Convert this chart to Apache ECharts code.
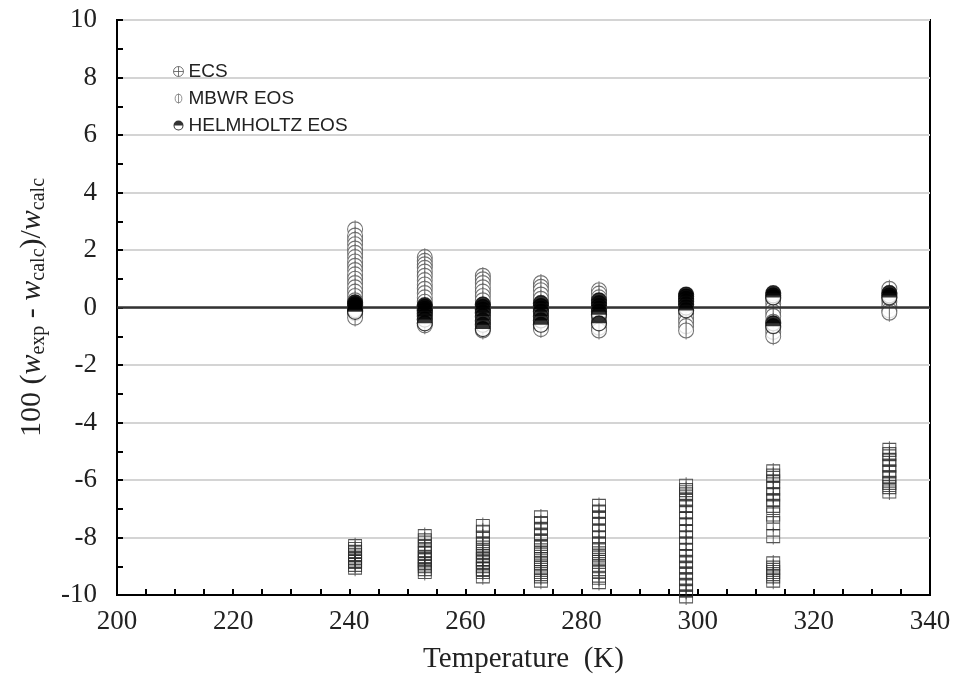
<!DOCTYPE html>
<html>
<head>
<meta charset="utf-8">
<script src="https://cdn.jsdelivr.net/npm/echarts@6/dist/echarts.min.js"></script>
<style>
  html, body { margin: 0; padding: 0; background: #ffffff; }
  #chart { width: 957px; height: 679px; }
</style>
</head>
<body>
<div id="chart"></div>
<script>
// Measurement temperatures (K)
const tempK = [241, 253, 263, 273, 283, 298, 313, 333];

// Deviations 100 (w_exp - w_calc)/w_calc, one list per temperature
const ecsDev = [
  [-8.3, -8.4, -8.5, -8.6, -8.7, -8.8, -8.85, -8.95, -9.05],
  [-7.95, -8.1, -8.3, -8.45, -8.55, -8.7, -8.8, -8.9, -9.0, -9.1, -9.2],
  [-7.6, -7.8, -8.0, -8.2, -8.35, -8.5, -8.65, -8.75, -8.85, -9.0, -9.1, -9.2, -9.35],
  [-7.3, -7.5, -7.7, -7.9, -8.1, -8.3, -8.45, -8.6, -8.75, -8.9, -9.05, -9.2, -9.35, -9.5],
  [-6.9, -7.1, -7.3, -7.55, -7.8, -8.0, -8.2, -8.4, -8.55, -8.7, -8.85, -9.0, -9.2, -9.4, -9.55],
  [-6.2, -6.35, -6.5, -6.7, -6.9, -7.1, -7.35, -7.55, -7.8, -8.0, -8.2, -8.45, -8.65, -8.85, -9.05, -9.25, -9.45, -9.65, -9.85, -10.05],
  [-5.7, -5.85, -6.05, -6.3, -6.5, -6.7, -6.9, -7.2, -7.5, -7.95, -8.9, -9.05, -9.2, -9.35, -9.5],
  [-4.95, -5.1, -5.3, -5.5, -5.7, -5.9, -6.1, -6.25, -6.4]
];

const mbwrDev = [
  [2.72, 2.5, 2.35, 2.2, 2.05, 1.9, 1.75, 1.6, 1.45, 1.3, 1.15, 1.0, 0.85, 0.7, 0.55, 0.4, 0.25, 0.1, -0.05, -0.2, -0.35],
  [1.75, 1.62, 1.5, 1.38, 1.25, 1.1, 0.95, 0.8, 0.65, 0.5, 0.35, 0.2, 0.05, -0.1, -0.25, -0.4, -0.55, -0.62],
  [1.1, 0.98, 0.85, 0.7, 0.55, 0.4, 0.25, 0.1, -0.05, -0.2, -0.35, -0.5, -0.65, -0.8],
  [0.85, 0.72, 0.6, 0.45, 0.3, 0.15, 0.0, -0.15, -0.3, -0.45, -0.6, -0.75],
  [0.6, 0.48, 0.35, 0.2, 0.05, -0.1, -0.25, -0.4, -0.55, -0.7, -0.8],
  [0.4, 0.25, 0.1, -0.05, -0.2, -0.35, -0.5, -0.65, -0.8],
  [0.3, 0.15, 0.0, -0.15, -0.3, -0.5, -0.7, -0.85, -1.0],
  [0.65, 0.5, 0.35, 0.2, 0.05, -0.1, -0.18]
];

const helmDev = [
  [0.18, 0.12, 0.06, 0.0, -0.05, -0.1, -0.15],
  [0.08, 0.02, -0.05, -0.12, -0.2, -0.3, -0.42, -0.55],
  [0.1, 0.02, -0.08, -0.18, -0.3, -0.45, -0.6, -0.75],
  [0.15, 0.05, -0.05, -0.15, -0.3, -0.45, -0.6],
  [0.25, 0.15, 0.05, -0.05, -0.15, -0.25, -0.55],
  [0.45, 0.38, 0.3, 0.2, 0.1, 0.0, -0.1],
  [0.5, 0.42, 0.35, -0.55, -0.65],
  [0.5, 0.42, 0.35]
];

const seriesNames = ['ECS', 'MBWR EOS', 'HELMHOLTZ EOS'];

// flatten a per-temperature list into [T, value] pairs
function toPoints(groups) {
  const pts = [];
  groups.forEach((vals, i) => vals.forEach(v => pts.push([tempK[i], v])));
  return pts;
}

// marker shapes
const squareCross = 'path://M0,2 L13,2 L13,15 L0,15 Z M6.5,0 L6.5,17 M0,8.5 L13,8.5';
const circleBar = 'path://M0,9 A7.5,7.5 0 1 1 15,9 A7.5,7.5 0 1 1 0,9 Z M7.5,0 L7.5,18';
const topHalf = 'path://M0,7 A7,7 0 0 1 14,7 Z';
const circleCrossIcon = 'path://M0,5 A5,5 0 1 1 10,5 A5,5 0 1 1 0,5 Z M5,0 L5,10 M0,5 L10,5';
const circleBarIcon = 'path://M0,6 A4,5 0 1 1 8,6 A4,5 0 1 1 0,6 Z M4,0 L4,12';
const halfFilledIcon = 'path://M0,7 A7,7 0 0 1 14,7 Z M0,7 A7,7 0 0 0 14,7 L12.6,7 A5.6,5.6 0 0 1 1.4,7 Z';

const serif = 'Liberation Serif';
const chart = echarts.init(document.getElementById('chart'), null, { renderer: 'canvas' });

chart.setOption({
  animation: false,
  backgroundColor: '#ffffff',
  grid: {
    left: 117, right: 27, top: 20, bottom: 84,
    show: true, borderColor: '#000', borderWidth: 2, backgroundColor: 'transparent'
  },
  legend: {
    orient: 'vertical',
    left: 168, top: 57,
    itemWidth: 10, itemHeight: 10, itemGap: 8,
    textStyle: { fontFamily: 'Liberation Sans', fontSize: 19, color: '#222' },
    data: [
      { name: seriesNames[0], icon: circleCrossIcon,
        itemStyle: { color: 'rgba(0,0,0,0)', borderColor: '#555', borderWidth: 1 } },
      { name: seriesNames[1], icon: circleBarIcon,
        itemStyle: { color: '#fff', borderColor: '#777', borderWidth: 1 } },
      { name: seriesNames[2], icon: halfFilledIcon,
        itemStyle: { color: '#000', borderWidth: 0 } }
    ]
  },
  xAxis: {
    type: 'value', min: 200, max: 340, interval: 20,
    name: 'Temperature  (K)', nameLocation: 'middle', nameGap: 50,
    nameTextStyle: { fontFamily: serif, fontSize: 29, color: '#222' },
    axisLine: { show: true, onZero: false, lineStyle: { color: '#000', width: 2 } },
    axisTick: { show: true, inside: true, length: 6, lineStyle: { color: '#000', width: 2 } },
    minorTick: { show: true, splitNumber: 4, length: 6, lineStyle: { color: '#000', width: 2 } },
    axisLabel: { fontFamily: serif, fontSize: 27, color: '#222', margin: 13 },
    splitLine: { show: false }
  },
  yAxis: {
    type: 'value', min: -10, max: 10, interval: 2,
    name: '100 ({w|w}{s|exp} - {w|w}{s|calc})/{w|w}{s|calc}',
    nameLocation: 'middle', nameRotate: 90, nameGap: 68,
    nameTextStyle: {
      fontFamily: serif, fontSize: 30, color: '#222',
      rich: {
        w: { fontFamily: serif, fontSize: 30, fontStyle: 'italic', color: '#222' },
        s: { fontFamily: serif, fontSize: 20, color: '#222', padding: [13, 0, 0, 0] }
      }
    },
    axisLine: { show: true, onZero: false, lineStyle: { color: '#000', width: 2 } },
    axisTick: { show: true, inside: true, length: 6, lineStyle: { color: '#000', width: 2 } },
    minorTick: { show: true, splitNumber: 2, length: 6, lineStyle: { color: '#000', width: 2 } },
    axisLabel: { fontFamily: serif, fontSize: 27, color: '#222', margin: 20 },
    splitLine: { show: true, lineStyle: { color: '#d4d4d4', width: 2 } }
  },
  series: [
    {
      name: seriesNames[0], type: 'scatter', clip: false, z: 2,
      symbol: squareCross, symbolSize: [13, 17],
      itemStyle: { color: 'rgba(0,0,0,0)', borderColor: '#2a2a2a', borderWidth: 1 },
      data: toPoints(ecsDev),
      markLine: {
        silent: true, symbol: 'none', label: { show: false },
        lineStyle: { color: '#333', width: 2.5, type: 'solid' },
        data: [{ yAxis: 0 }]
      }
    },
    {
      name: seriesNames[1], type: 'scatter', clip: false, z: 3,
      symbol: circleBar, symbolSize: [15, 18],
      itemStyle: { color: '#ffffff', borderColor: '#505050', borderWidth: 1.1 },
      data: toPoints(mbwrDev)
    },
    {
      name: seriesNames[2], type: 'scatter', clip: false, z: 4,
      symbol: 'circle', symbolSize: 15,
      itemStyle: { color: '#ffffff', borderColor: '#111', borderWidth: 1.2 },
      data: toPoints(helmDev)
    },
    {
      name: seriesNames[2], type: 'scatter', clip: false, z: 5,
      symbol: topHalf, symbolSize: [15, 7.5], symbolOffset: [0, -3.75],
      itemStyle: { color: '#000', borderWidth: 0 },
      data: toPoints(helmDev)
    }
  ]
});
</script>
</body>
</html>
